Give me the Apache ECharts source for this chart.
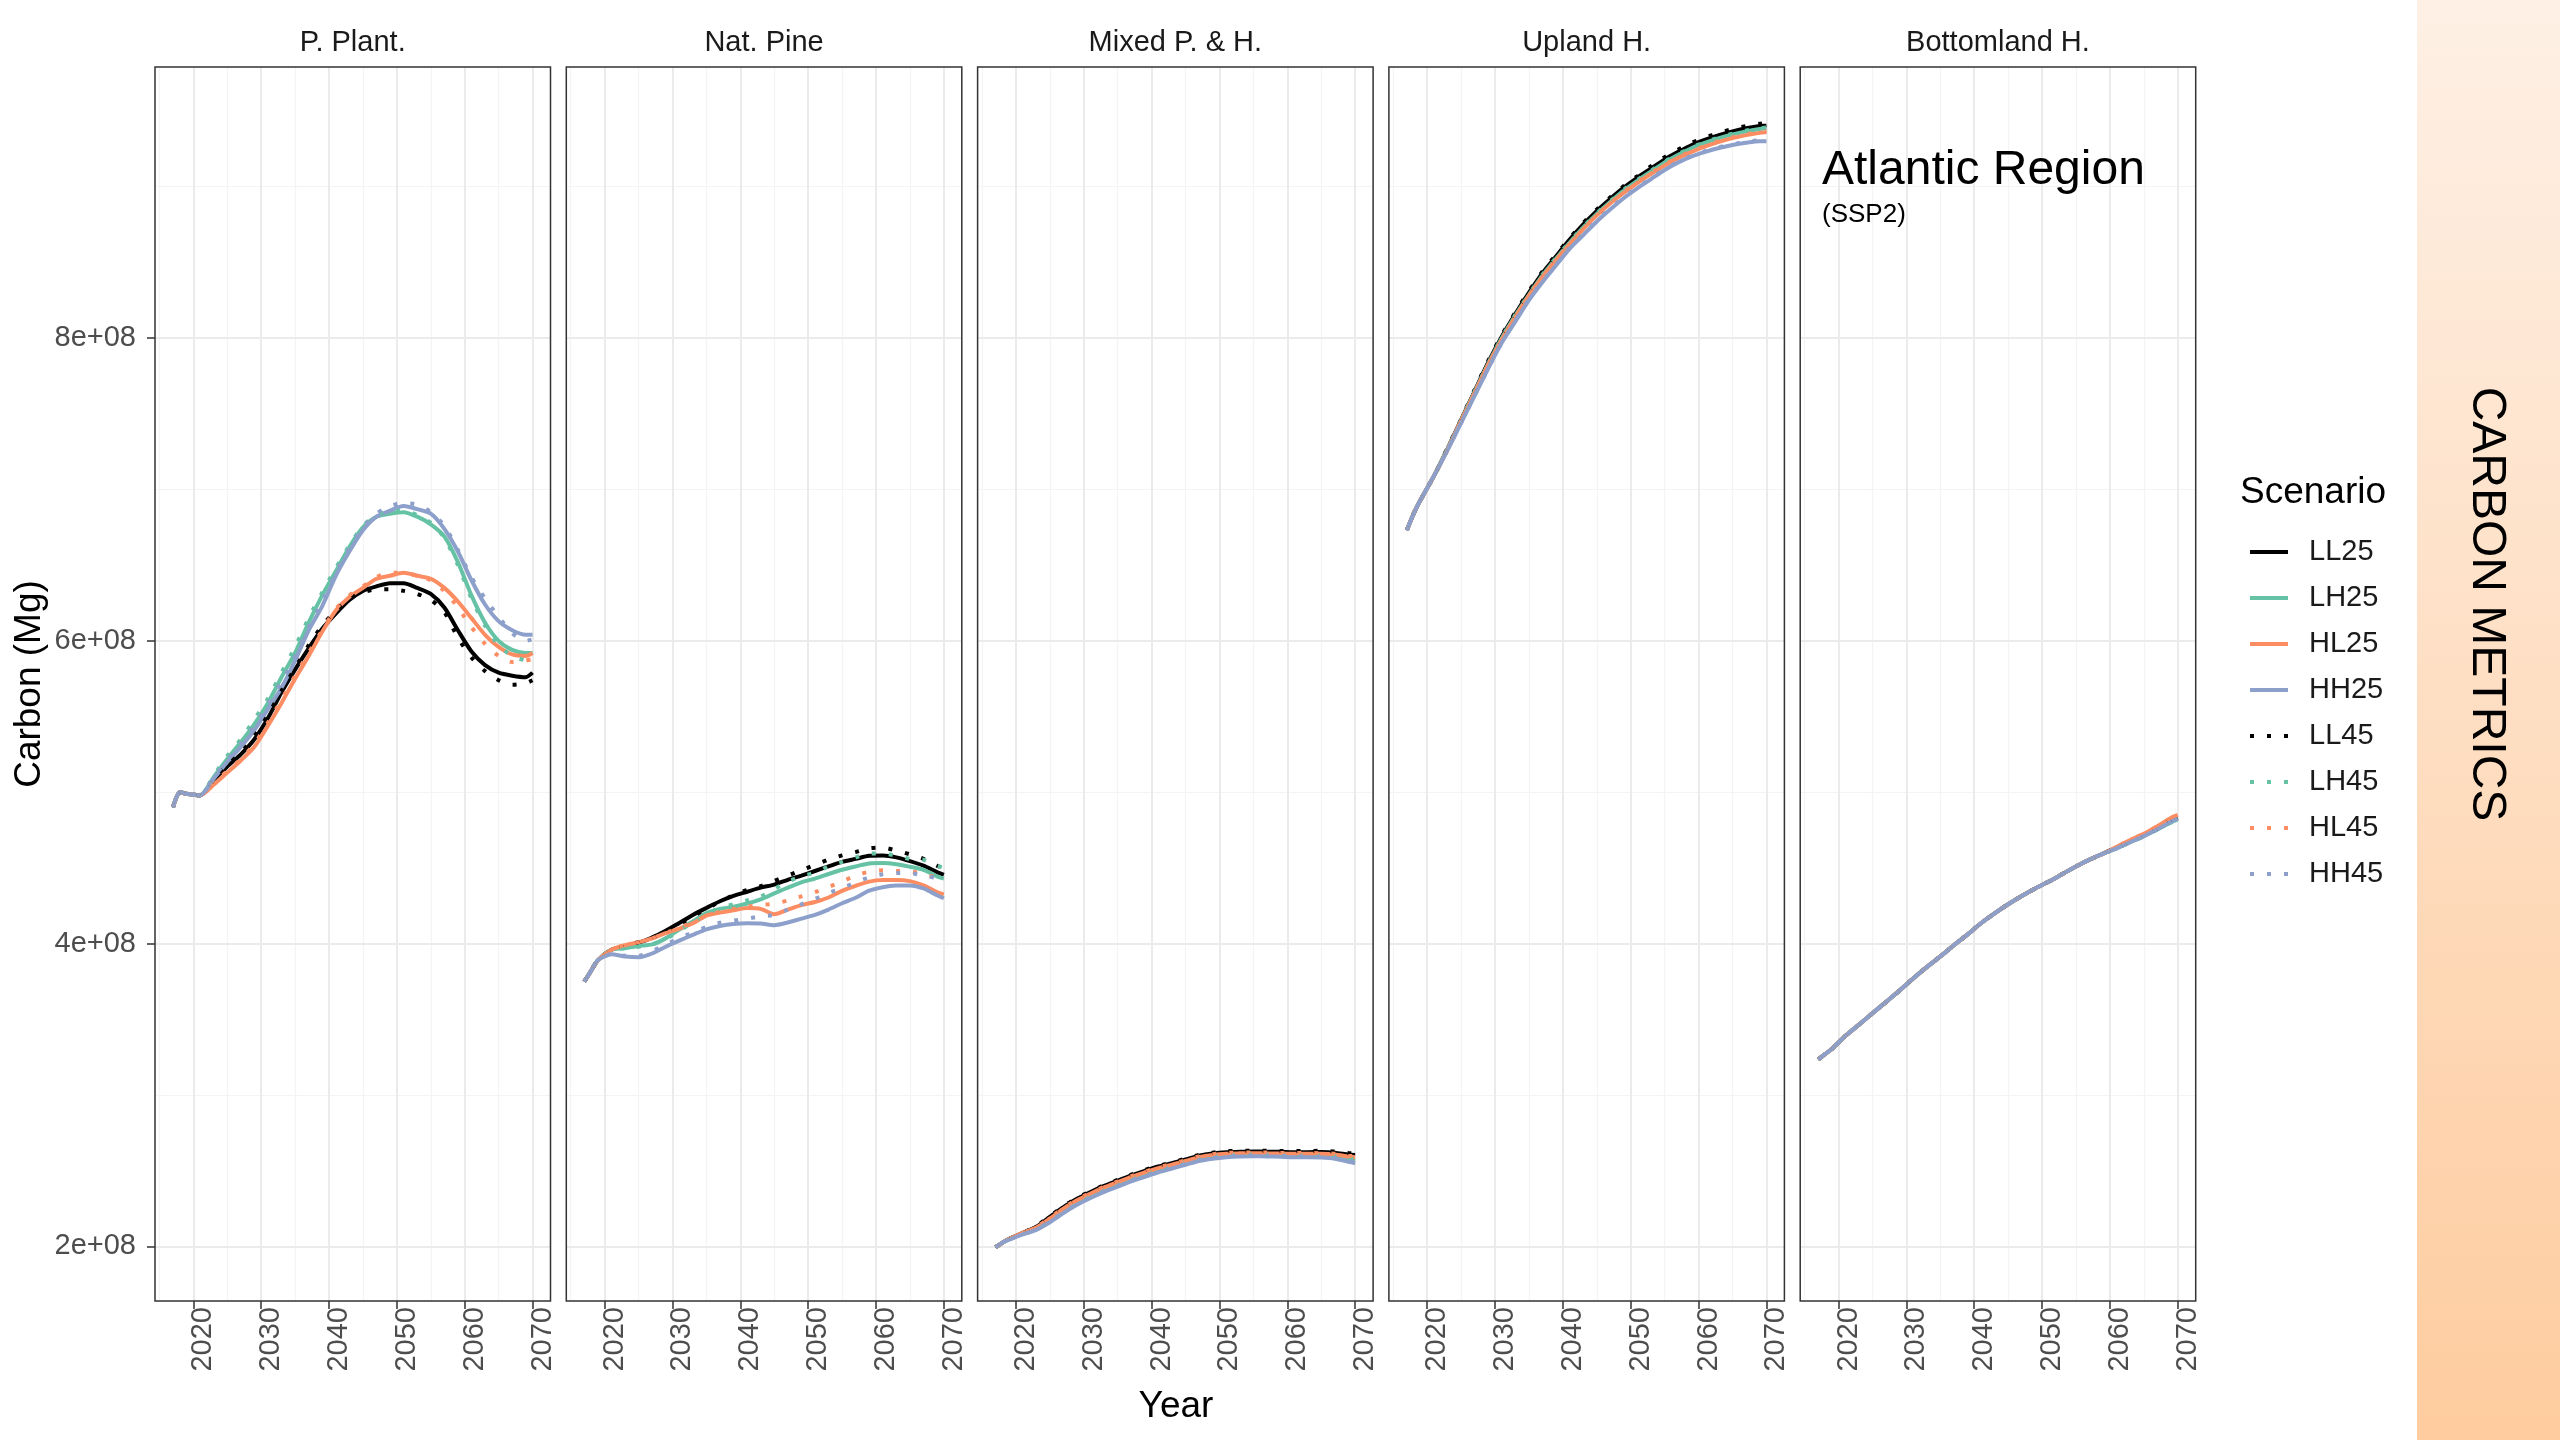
<!DOCTYPE html>
<html>
<head>
<meta charset="utf-8">
<script src="https://cdn.jsdelivr.net/npm/echarts@6/dist/echarts.min.js"></script>
<style>
  html, body { margin: 0; padding: 0; background: #ffffff; }
  #chart { width: 2560px; height: 1440px; }
</style>
</head>
<body>
<div id="chart"></div>
<script>
// Carbon stock (million Mg) by forest type and scenario, Atlantic region, SSP2.
const YEARS = [2017, 2018, 2019, 2021, 2023, 2025, 2027, 2029, 2031, 2033, 2035, 2037, 2039, 2041,
  2043, 2045, 2047, 2049, 2051, 2053, 2055, 2057, 2059, 2061, 2063, 2065, 2067, 2069, 2070];

const PANELS = ['P. Plant.', 'Nat. Pine', 'Mixed P. & H.', 'Upland H.', 'Bottomland H.'];
const SCENARIOS = ['LL25', 'LH25', 'HL25', 'HH25', 'LL45', 'LH45', 'HL45', 'HH45'];
const X_TICKS = [2020, 2030, 2040, 2050, 2060, 2070];
const X_MINOR = [2015, 2025, 2035, 2045, 2055, 2065];
const Y_TICKS = [200, 400, 600, 800];          // million Mg
const Y_MINOR = [300, 500, 700, 900];

// P. Plant.
const PP_LL25 = [490, 500, 499, 498, 508, 517, 525, 535, 549, 566, 581, 595, 608, 618, 627, 633, 636, 638, 638, 635, 631, 622, 607, 593, 584, 579, 577, 576, 579];
const PP_LH25 = [490, 500, 499, 498, 510, 522, 533, 545, 559, 576, 592, 612, 630, 646, 662, 675, 682, 684, 685, 682, 677, 669, 652, 630, 612, 600, 594, 592, 592];
const PP_HL25 = [490, 500, 499, 498, 505, 513, 521, 530, 544, 559, 575, 590, 606, 620, 629, 635, 641, 643, 645, 643, 641, 635, 626, 615, 604, 596, 591, 590, 592];
const PP_HH25 = [490, 500, 499, 498, 509, 520, 530, 541, 555, 569, 587, 607, 623, 643, 659, 673, 682, 686, 689, 687, 684, 674, 659, 640, 624, 613, 607, 604, 604];
const PP_LL45 = [490, 500, 499, 498, 508, 518, 526, 537, 551, 567, 582, 597, 610, 620, 628, 632, 634, 634, 633, 631, 627, 619, 602, 589, 580, 574, 571, 572, 574];
const PP_LH45 = [490, 500, 499, 498, 511, 524, 535, 548, 562, 579, 596, 615, 632, 648, 663, 676, 683, 686, 686, 683, 678, 668, 650, 628, 610, 597, 590, 587, 586];
const PP_HL45 = [490, 500, 499, 498, 506, 514, 522, 532, 546, 561, 577, 592, 607, 621, 630, 636, 642, 645, 645, 643, 640, 633, 622, 609, 598, 590, 586, 587, 588];
const PP_HH45 = [490, 500, 499, 498, 510, 521, 532, 544, 558, 573, 590, 609, 626, 645, 661, 675, 684, 689, 691, 690, 685, 676, 660, 642, 628, 616, 605, 600, 601];

// Nat. Pine
const NP_LL25 = [375, 382, 389, 396, 398, 400.5, 404, 408.5, 413.7, 419, 423.6, 428, 431.6, 434.3, 437, 439, 442.2, 445, 448, 451, 454, 456, 458, 458.2, 457, 454.5, 451.5, 447.3, 445.5];
const NP_LH25 = [375, 382, 389, 396, 397, 398.5, 399.5, 403.5, 409.3, 414.6, 420.2, 423, 424.4, 426.5, 429.3, 433.2, 437, 440.5, 443, 446, 448.8, 451, 453, 453.2, 452.5, 450.8, 448.8, 444.5, 443];
const NP_HL25 = [375, 382, 389, 396, 399, 401, 403.5, 407, 410, 413.5, 418.5, 420.5, 422, 423.5, 423, 419.5, 422.5, 425.5, 427.5, 430.5, 434.9, 438.2, 441, 442, 442, 441.3, 438.5, 434, 432.5];
const NP_HH25 = [375, 382, 389, 393, 391.5, 391, 393.5, 398, 402, 405.8, 409.5, 411.7, 413, 413.5, 413.3, 412.2, 414, 416.5, 419, 422.5, 426.7, 430.3, 435, 437.3, 438.4, 438.5, 436.5, 432, 430];
const NP_LL45 = [375, 382, 389, 396, 398, 401, 404, 407.8, 412.6, 418, 423, 427.8, 432, 435.5, 438, 441.5, 445, 448.5, 452, 455.5, 458.3, 460.5, 463, 463.5, 461.5, 459, 456, 451.5, 449.5];
const NP_LH45 = [375, 382, 389, 396, 397, 398, 399.5, 403, 408.5, 414, 419.5, 423.5, 426, 428.5, 431, 436, 441, 444.5, 447, 451, 454, 457, 459.5, 459.5, 458, 456, 455.4, 451.5, 450];
const NP_HL45 = [375, 382, 389, 396, 399, 401, 403.5, 407, 410.5, 414, 418.5, 421, 423, 424.5, 425.5, 426.5, 428.5, 431.2, 434, 437.5, 441, 445, 447.5, 448.5, 448, 447.8, 446, 443.5, 442.5];
const NP_HH45 = [375, 382, 389, 393, 392, 392, 395, 399.5, 403.5, 407.5, 411, 413.8, 415.2, 416.5, 418, 419, 422.5, 426, 429.5, 433.5, 436.7, 440.5, 443.8, 445.8, 446.6, 446.6, 445, 443.3, 442];

// Mixed P. & H.
const MX_LL25 = [199.5, 202.5, 205, 209, 213, 219.5, 226, 231.5, 236, 240, 243.5, 247, 250, 252.8, 255, 257.5, 260, 261.5, 262.3, 262.5, 262.7, 262.6, 262.5, 262.3, 262.3, 262.4, 262, 260.8, 260.5];
const MX_LH25 = [199.5, 202.5, 205, 208.5, 212, 217.5, 223.5, 229, 233.5, 237.5, 241, 244.5, 247.5, 250.3, 252.8, 255.3, 257.8, 259.3, 260.2, 260.5, 260.6, 260.5, 260.3, 260.1, 260, 259.9, 259.3, 257.8, 257];
const MX_HL25 = [199.5, 202.5, 205, 209, 212.5, 218.5, 225, 230.5, 235, 239, 242.5, 246, 249, 251.8, 254, 256.5, 259, 260.5, 261.3, 261.5, 261.6, 261.5, 261.4, 261.2, 261.2, 261.2, 260.8, 259.5, 259];
const MX_HH25 = [199.5, 202.5, 204.5, 208, 211, 216, 222, 227.5, 232, 236, 239.5, 243, 246, 249, 251.5, 254, 256.5, 258, 259, 259.5, 259.6, 259.5, 259.3, 259, 259, 258.8, 258, 256, 255];
const MX_LL45 = [199.5, 202.5, 205, 209, 213.5, 220, 226.5, 232, 236.5, 240.5, 244, 247.5, 250.5, 253.3, 255.5, 258, 260.5, 262, 263, 263.2, 263.3, 263.2, 263, 263, 263, 263.2, 262.8, 261.8, 261.5];
const MX_LH45 = [199.5, 202.5, 205, 208.5, 212.3, 218, 224, 229.5, 234, 238, 241.5, 245, 248, 250.8, 253.3, 255.8, 258.3, 259.8, 260.6, 260.9, 261, 260.9, 260.7, 260.5, 260.4, 260.3, 259.7, 258.3, 257.5];
const MX_HL45 = [199.5, 202.5, 205, 209, 212.8, 219, 225.5, 231, 235.5, 239.5, 243, 246.5, 249.5, 252.2, 254.5, 257, 259.5, 261, 261.8, 262, 262, 262, 261.8, 261.7, 261.7, 261.6, 261.2, 260, 259.5];
const MX_HH45 = [199.5, 202.5, 204.5, 208, 211.3, 216.5, 222.5, 228, 232.5, 236.5, 240, 243.5, 246.5, 249.5, 252, 254.5, 257, 258.5, 259.5, 260, 260.1, 260, 259.8, 259.5, 259.4, 259.2, 258.5, 256.6, 255.7];

// Upland H.
const UP_LL25 = [673, 684, 693, 709, 727, 746, 765, 784, 801, 816, 830, 843, 854, 865, 875, 884, 892, 899.5, 906, 912, 918, 923, 927.5, 931, 934, 936.5, 938.5, 940, 940.5];
const UP_LH25 = [673, 684, 693, 709, 727, 745.5, 764.5, 783, 800, 815, 828.5, 841.5, 852.5, 863, 873, 882, 890, 897.5, 904, 910, 916, 921, 925.5, 929, 932, 934.5, 936.5, 938, 938.5];
const UP_HL25 = [673, 684, 693, 709, 726.5, 745.5, 764, 782.5, 799, 814, 828, 840.5, 851.5, 862, 872, 881, 889, 896, 902.5, 908.5, 914, 919, 923, 926.5, 929.5, 932, 934, 935.5, 936];
const UP_HH25 = [673, 684, 693, 709, 726, 744, 762, 780, 797, 811, 825, 837, 848, 859, 868, 877, 885, 892.5, 899, 905, 911, 916, 920, 923, 925.5, 927.5, 929, 930, 930];
const UP_LL45 = [673, 684, 693, 709, 727.5, 746.5, 766, 785, 802, 817, 831, 844, 855, 866, 876, 885, 893, 900.5, 907, 913.5, 919.5, 924.5, 929, 932.5, 935.5, 938, 940, 941.5, 942];
const UP_LH45 = [673, 684, 693, 709, 727, 746, 765, 783.5, 800.5, 815.5, 829, 842, 853, 863.5, 873.5, 882.5, 890.5, 898, 904.5, 910.5, 916.5, 921.5, 926, 929.5, 932.5, 935, 937, 938.5, 939];
const UP_HL45 = [673, 684, 693, 709, 726.5, 745.5, 764, 782.5, 799, 814, 828, 840.5, 851.5, 862, 872, 881, 889, 896.5, 903, 909, 914.5, 919.5, 923.5, 927, 930, 932.5, 934.5, 936, 936.5];
const UP_HH45 = [673, 684, 693, 709, 726, 744, 762, 780, 797, 811.5, 825.5, 837.5, 848.5, 859.5, 868.5, 877.5, 885.5, 893, 899.5, 905.5, 911.5, 916.5, 920.5, 923.5, 926, 928, 929.5, 930.5, 930.5];

// Bottomland H.
const BL_LL25 = [323.5, 327, 330.5, 339, 346.5, 354, 361.5, 369, 377, 384.5, 391.5, 399, 406, 413.5, 420, 426, 431.5, 436.5, 441, 446, 451, 455.5, 459.5, 463.5, 467.5, 471.5, 476, 481, 483];
const BL_LH25 = [323.5, 327, 330.5, 339, 346.5, 354, 361.5, 369, 377, 384.5, 391.5, 399, 406, 413.5, 420, 426, 431.5, 436.5, 441, 446, 451, 455.5, 459.5, 463, 467, 471, 475.5, 480, 482];
const BL_HL25 = [323.5, 327, 330.5, 339, 346.5, 354, 361.5, 369, 377, 384.5, 391.5, 399, 406, 413.5, 420, 426, 431.5, 436.5, 441, 446, 451, 455.5, 459.5, 464, 468.5, 472.5, 477.5, 483, 485];
const BL_HH25 = [323.5, 327, 330.5, 339, 346.5, 354, 361.5, 369, 377, 384.5, 391.5, 399, 406, 413.5, 420, 426, 431.5, 436.5, 441, 446, 451, 455.5, 459.5, 463, 467, 471, 475.5, 480.5, 482.5];
const BL_LL45 = [323.5, 327, 330.5, 339, 346.5, 354, 361.5, 369, 377, 384.5, 391.5, 399, 406, 413.5, 420, 426, 431.5, 436.5, 441, 446, 451, 455.5, 459.5, 463.5, 467.5, 471.5, 476, 481.5, 483.5];
const BL_LH45 = [323.5, 327, 330.5, 339, 346.5, 354, 361.5, 369, 377, 384.5, 391.5, 399, 406, 413.5, 420, 426, 431.5, 436.5, 441, 446, 451, 455.5, 459.5, 463, 467, 471, 475.5, 480, 482.5];
const BL_HL45 = [323.5, 327, 330.5, 339, 346.5, 354, 361.5, 369, 377, 384.5, 391.5, 399, 406, 413.5, 420, 426, 431.5, 436.5, 441, 446, 451, 455.5, 459.5, 464, 468.5, 472.5, 477.5, 483, 485.5];
const BL_HH45 = [323.5, 327, 330.5, 339, 346.5, 354, 361.5, 369, 377, 384.5, 391.5, 399, 406, 413.5, 420, 426, 431.5, 436.5, 441, 446, 451, 455.5, 459.5, 463, 467, 471, 475.5, 480.5, 482.5];

const PANEL_SERIES = [
  [PP_LL25, PP_LH25, PP_HL25, PP_HH25, PP_LL45, PP_LH45, PP_HL45, PP_HH45],
  [NP_LL25, NP_LH25, NP_HL25, NP_HH25, NP_LL45, NP_LH45, NP_HL45, NP_HH45],
  [MX_LL25, MX_LH25, MX_HL25, MX_HH25, MX_LL45, MX_LH45, MX_HL45, MX_HH45],
  [UP_LL25, UP_LH25, UP_HL25, UP_HH25, UP_LL45, UP_LH45, UP_HL45, UP_HH45],
  [BL_LL25, BL_LH25, BL_HL25, BL_HH25, BL_LL45, BL_LH45, BL_HL45, BL_HH45]
];

const COLORS = ['#000000', '#66c2a5', '#fc8d62', '#8da0cb', '#000000', '#66c2a5', '#fc8d62', '#8da0cb'];
const FONT = '"Liberation Sans", Arial, Helvetica, sans-serif';

// Facet layout
const PANEL_LEFT = 155, PANEL_STEP = 411.3, PANEL_W = 395.5, PANEL_TOP = 67, PANEL_H = 1234;
const X_MIN = 2014.35, X_MAX = 2072.65;
const Y_MIN = 164, Y_MAX = 979;

const grids = [], xAxes = [], yAxes = [], series = [], graphics = [];

PANELS.forEach((title, g) => {
  const left = PANEL_LEFT + g * PANEL_STEP;
  grids.push({ left: left, top: PANEL_TOP, width: PANEL_W, height: PANEL_H,
    show: true, backgroundColor: '#ffffff', borderWidth: 0 });

  xAxes.push({
    type: 'value', gridIndex: g, min: X_MIN, max: X_MAX,
    axisLine: { show: false },
    axisTick: { show: true, customValues: X_TICKS, length: 8, lineStyle: { color: '#333333', width: 1.5 } },
    axisLabel: { show: true, customValues: X_TICKS, rotate: 90, margin: 6, fontSize: 29, color: '#4d4d4d', fontFamily: FONT,
      verticalAlign: 'top', lineHeight: 20, formatter: v => String(v) },
    splitLine: { show: false }
  });

  yAxes.push({
    type: 'value', gridIndex: g, min: Y_MIN, max: Y_MAX,
    axisLine: { show: false },
    axisTick: { show: g === 0, customValues: Y_TICKS, length: 8, lineStyle: { color: '#333333', width: 1.5 } },
    axisLabel: { show: g === 0, customValues: Y_TICKS, margin: 19, fontSize: 29, color: '#4d4d4d', fontFamily: FONT,
      formatter: v => (v / 100) + 'e+08' },
    splitLine: { show: false }
  });

  // background grid of the facet
  const minorStyle = { color: '#f4f4f4', width: 1.2, type: 'solid' };
  const majorStyle = { color: '#ebebeb', width: 2, type: 'solid' };
  const gridLines = []
    .concat(X_MINOR.map(v => ({ xAxis: v, lineStyle: minorStyle })))
    .concat(Y_MINOR.map(v => ({ yAxis: v, lineStyle: minorStyle })))
    .concat(X_TICKS.map(v => ({ xAxis: v, lineStyle: majorStyle })))
    .concat(Y_TICKS.map(v => ({ yAxis: v, lineStyle: majorStyle })));

  PANEL_SERIES[g].forEach((vals, s) => {
    const item = {
      type: 'line', name: SCENARIOS[s], xAxisIndex: g, yAxisIndex: g,
      data: YEARS.map((yr, i) => [yr, vals[i]]),
      symbol: 'none', smooth: 0.25, silent: true, animation: false,
      lineStyle: { color: COLORS[s], width: 4, type: s < 4 ? 'solid' : [4, 13], cap: 'butt' },
      itemStyle: { color: COLORS[s] },
      z: 3
    };
    if (s === 0) {
      item.markLine = { silent: true, animation: false, symbol: ['none', 'none'], z: 1,
        label: { show: false }, emphasis: { disabled: true },
        lineStyle: { type: 'solid' }, data: gridLines };
    }
    series.push(item);
  });

  // facet strip label and border
  graphics.push({ type: 'text', x: left + PANEL_W / 2, y: 43, z: 50,
    style: { text: title, font: '29px ' + FONT, fill: '#1a1a1a', textAlign: 'center', textVerticalAlign: 'middle' } });
  graphics.push({ type: 'rect', z: 50, shape: { x: left, y: PANEL_TOP, width: PANEL_W, height: PANEL_H },
    style: { fill: 'none', stroke: '#333333', lineWidth: 1.5 } });
});

// axis titles
graphics.push({ type: 'text', x: 30, y: 684, rotation: Math.PI / 2, z: 50,
  style: { text: 'Carbon (Mg)', font: '37px ' + FONT, fill: '#000000', textAlign: 'center', textVerticalAlign: 'middle' } });
graphics.push({ type: 'text', x: 1176, y: 1407, z: 50,
  style: { text: 'Year', font: '37px ' + FONT, fill: '#000000', textAlign: 'center', textVerticalAlign: 'middle' } });

// region annotation
graphics.push({ type: 'text', x: 1822, y: 171, z: 50,
  style: { text: 'Atlantic Region', font: '48px ' + FONT, fill: '#000000', textAlign: 'left', textVerticalAlign: 'middle' } });
graphics.push({ type: 'text', x: 1822, y: 215, z: 50,
  style: { text: '(SSP2)', font: '26px ' + FONT, fill: '#000000', textAlign: 'left', textVerticalAlign: 'middle' } });

// legend title
graphics.push({ type: 'text', x: 2240, y: 493, z: 50,
  style: { text: 'Scenario', font: '37px ' + FONT, fill: '#000000', textAlign: 'left', textVerticalAlign: 'middle' } });

// side band
graphics.push({ type: 'rect', z: 40, shape: { x: 2417, y: 0, width: 143, height: 1440 },
  style: { fill: new echarts.graphic.LinearGradient(0, 0, 0, 1, [
    { offset: 0, color: '#fef0e5' }, { offset: 1, color: '#fecc9f' }]) } });
graphics.push({ type: 'text', x: 2486, y: 604, rotation: -Math.PI / 2, z: 50,
  style: { text: 'CARBON METRICS', font: '48px ' + FONT, fill: '#000000', textAlign: 'center', textVerticalAlign: 'middle' } });

const chart = echarts.init(document.getElementById('chart'), null, { renderer: 'canvas' });
chart.setOption({
  backgroundColor: '#ffffff',
  animation: false,
  grid: grids,
  xAxis: xAxes,
  yAxis: yAxes,
  legend: {
    orient: 'vertical', left: 2243, top: 532, data: SCENARIOS, selectedMode: false,
    itemWidth: 38, itemHeight: 20, itemGap: 16,
    itemStyle: { opacity: 0, borderWidth: 0 },
    lineStyle: { width: 4 },
    textStyle: { fontSize: 29, color: '#1a1a1a', fontFamily: FONT, lineHeight: 30, padding: [0, 0, 0, 16] }
  },
  series: series,
  graphic: { elements: graphics }
});
</script>
</body>
</html>
